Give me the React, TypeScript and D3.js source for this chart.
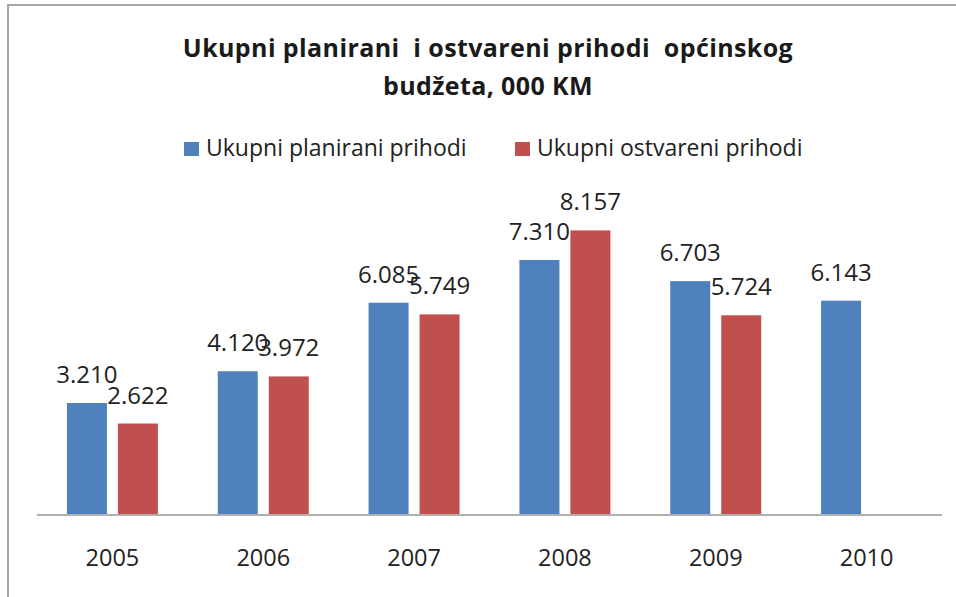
import React from "react";
import * as d3 from "d3";

const categories = ["2005", "2006", "2007", "2008", "2009", "2010"];
const planned: (number | null)[] = [3210, 4120, 6085, 7310, 6703, 6143];
const realized: (number | null)[] = [2622, 3972, 5749, 8157, 5724, null];
const seriesNames = ["Ukupni planirani prihodi", "Ukupni ostvareni prihodi"];
const seriesColors = ["#4F81BD", "#C0504D"];
const titleLines = ["Ukupni planirani  i ostvareni prihodi  općinskog", "budžeta, 000 KM"];

const W = 956;
const H = 597;
const FONT = "'Open Sans', 'Noto Sans', sans-serif";

export default function App() {
  const x0 = d3.scaleBand<string>().domain(categories).range([37, 942]).paddingInner(0).paddingOuter(0);
  const bw = x0.bandwidth();
  const barW = 40;
  const gap = 11;
  const y = d3.scaleLinear().domain([0, 9000]).range([515, 515 - 9000 * 0.03489]);
  const series = [planned, realized];
  const fmt = (v: number) => d3.format(",")(v).replace(/,/g, ".");

  return (
    <svg width={W} height={H} style={{ position: "fixed", left: 0, top: 0, background: "#fff" }} fontFamily={FONT}>
      <rect x={0} y={0} width={W} height={H} fill="#fff" />
      {/* frame */}
      <line x1={7} y1={5} x2={W} y2={5} stroke="#a6a6a6" strokeWidth={2} />
      <line x1={8} y1={5} x2={8} y2={H} stroke="#a6a6a6" strokeWidth={2} />

      {/* title */}
      {titleLines.map((t, i) => (
        <text key={t} x={488} y={57 + i * 38} textAnchor="middle" fontWeight="bold" fontSize={25} letterSpacing={0.4} fill="#1a1a1a" style={{ whiteSpace: "pre" }}>
          {t}
        </text>
      ))}

      {/* legend */}
      {seriesNames.map((n, i) => {
        const lx = i === 0 ? 184 : 515;
        return (
          <g key={n}>
            <rect x={lx} y={142} width={15} height={14} fill={seriesColors[i]} />
            <text x={lx + 22} y={156} fontSize={23} fill="#222">{n}</text>
          </g>
        );
      })}

      {/* bars */}
      {categories.map((c) => {
        const cx = (x0(c) as number) + bw / 2;
        return (
          <g key={c}>
            {series.map((s, si) => {
              const v = s[categories.indexOf(c)];
              if (v == null) return null;
              const bx = si === 0 ? cx - gap / 2 - barW : cx + gap / 2;
              return (
                <g key={si}>
                  <rect x={bx} y={y(v)} width={barW} height={y(0) - y(v)} fill={seriesColors[si]} />
                  <text x={bx + barW / 2} y={y(v) - 20} textAnchor="middle" fontSize={24} fill="#222">
                    {fmt(v)}
                  </text>
                </g>
              );
            })}
            <text x={cx} y={566} textAnchor="middle" fontSize={23.5} fill="#222">{c}</text>
          </g>
        );
      })}

      {/* axis line */}
      <line x1={37} y1={515} x2={942} y2={515} stroke="#b0b0b0" strokeWidth={2} />
    </svg>
  );
}
